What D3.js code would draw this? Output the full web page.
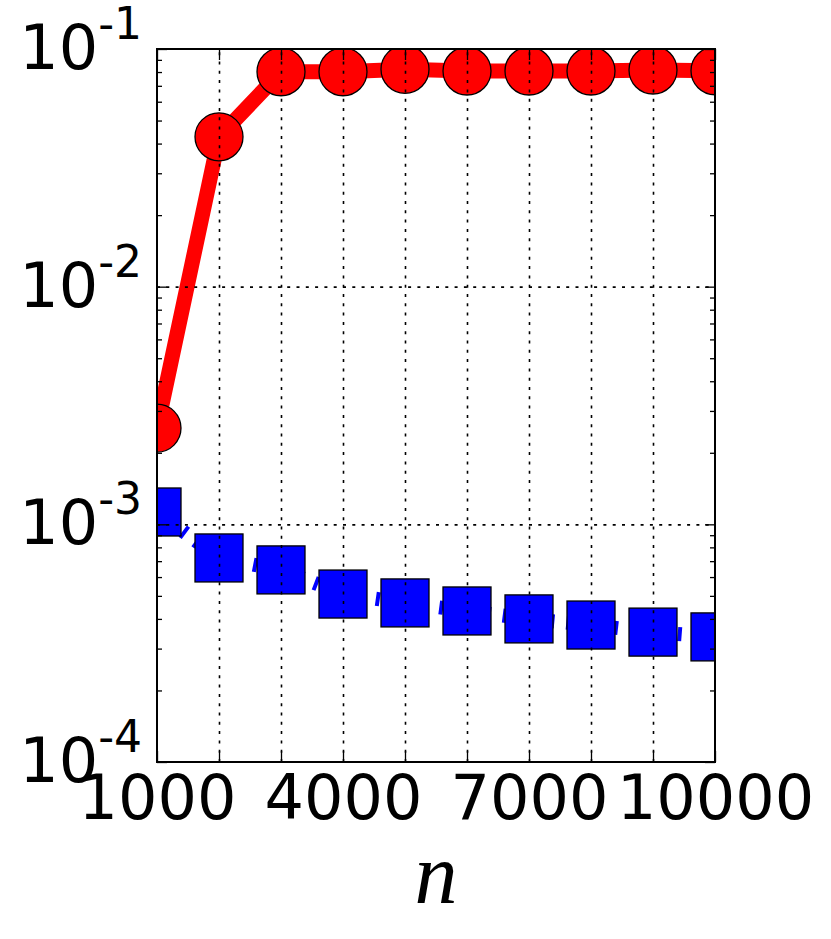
<!DOCTYPE html>
<html>
<head>
<meta charset="utf-8">
<script src="https://cdn.jsdelivr.net/npm/d3@7"></script>
<style>
  html, body { margin: 0; padding: 0; background: #fff; }
  svg { display: block; }
</style>
</head>
<body>
<script>
// ---- data ----
const nValues = [1000, 2000, 3000, 4000, 5000, 6000, 7000, 8000, 9000, 10000];
const redSeries = [0.00254, 0.0427, 0.0802, 0.0802, 0.0821, 0.0808, 0.0808, 0.0808, 0.0816, 0.0810];
const blueSeries = [0.001127, 0.000722, 0.000643, 0.000509, 0.000467, 0.000432, 0.000400, 0.000377, 0.000352, 0.000336];
const xTickLabels = [1000, 4000, 7000, 10000];
const xGridValues = [1000, 2000, 3000, 4000, 5000, 6000, 7000, 8000, 9000, 10000];
const yMajorTicks = [1e-4, 1e-3, 1e-2, 1e-1];
const yTickExponents = ["-4", "-3", "-2", "-1"];

// ---- layout ----
const W = 831, H = 939;
const L = 157, R = 715, T = 49, B = 762;

const svg = d3.select("body").append("svg").attr("width", W).attr("height", H);

const x = d3.scaleLinear().domain([1000, 10000]).range([L, R]);
const y = d3.scaleLog().domain([1e-4, 1e-1]).range([B, T]);

const yMinor = [];
[-4, -3, -2].forEach(e => { for (let k = 2; k <= 9; k++) yMinor.push(k * Math.pow(10, e)); });

svg.append("defs").append("clipPath").attr("id", "clip")
  .append("rect").attr("x", L).attr("y", T).attr("width", R - L).attr("height", B - T);

const plot = svg.append("g").attr("clip-path", "url(#clip)");

// red series
const red = nValues.map((n, i) => [n, redSeries[i]]);
const blue = nValues.map((n, i) => [n, blueSeries[i]]);
const line = d3.line().x(d => x(d[0])).y(d => y(d[1]));

plot.append("path").datum(red).attr("d", line)
  .attr("fill", "none").attr("stroke", "#ff0000").attr("stroke-width", 15)
  .attr("stroke-linejoin", "round");
plot.selectAll("circle.red").data(red).enter().append("circle")
  .attr("cx", d => x(d[0])).attr("cy", d => y(d[1])).attr("r", 24)
  .attr("fill", "#ff0000").attr("stroke", "#000").attr("stroke-width", 1.3);

// blue series
plot.append("path").datum(blue).attr("d", line)
  .attr("fill", "none").attr("stroke", "#0000ff").attr("stroke-width", 14)
  .attr("stroke-dasharray", "4,12");
const S = 48;
plot.selectAll("rect.blue").data(blue).enter().append("rect")
  .attr("x", d => x(d[0]) - S / 2).attr("y", d => y(d[1]) - S / 2)
  .attr("width", S).attr("height", S)
  .attr("fill", "#0000ff").attr("stroke", "#000").attr("stroke-width", 1.3);

// grid (drawn on top, like classic matplotlib)
const gridX = svg.append("g").attr("transform", `translate(0,${B})`)
  .call(d3.axisBottom(x).tickValues(xGridValues.slice(1, -1)).tickSize(-(B - T)).tickFormat(""));
const gridY = svg.append("g").attr("transform", `translate(${L},0)`)
  .call(d3.axisLeft(y).tickValues([1e-3, 1e-2]).tickSize(-(R - L)).tickFormat(""));
[gridX, gridY].forEach(g => {
  g.select(".domain").remove();
  g.selectAll("line").attr("stroke", "#000").attr("stroke-width", 1.6).attr("stroke-dasharray", "3,6.3");
});

// ticks (inward) on all four sides
function styleTicks(g) {
  g.select(".domain").remove();
  g.selectAll("line").attr("stroke", "#000").attr("stroke-width", 1.3);
}
styleTicks(svg.append("g").attr("transform", `translate(0,${B})`)
  .call(d3.axisBottom(x).tickValues(xGridValues).tickSize(-11).tickFormat("")));
styleTicks(svg.append("g").attr("transform", `translate(0,${T})`)
  .call(d3.axisTop(x).tickValues(xGridValues).tickSize(-11).tickFormat("")));
styleTicks(svg.append("g").attr("transform", `translate(${L},0)`)
  .call(d3.axisLeft(y).tickValues(yMajorTicks).tickSize(-10).tickFormat("")));
styleTicks(svg.append("g").attr("transform", `translate(${R},0)`)
  .call(d3.axisRight(y).tickValues(yMajorTicks).tickSize(-10).tickFormat("")));
styleTicks(svg.append("g").attr("transform", `translate(${L},0)`)
  .call(d3.axisLeft(y).tickValues(yMinor).tickSize(-5).tickFormat("")));
styleTicks(svg.append("g").attr("transform", `translate(${R},0)`)
  .call(d3.axisRight(y).tickValues(yMinor).tickSize(-5).tickFormat("")));

// border
svg.append("rect").attr("x", L).attr("y", T).attr("width", R - L).attr("height", B - T)
  .attr("fill", "none").attr("stroke", "#000").attr("stroke-width", 2);

// x tick labels
const xl = svg.append("g").attr("transform", `translate(0,${B})`)
  .call(d3.axisBottom(x).tickValues(xTickLabels).tickSize(0).tickFormat(d => String(d)));
xl.select(".domain").remove();
xl.selectAll("text").attr("y", 57).attr("dy", 0)
  .attr("font-family", "DejaVu Sans").attr("font-size", 62).attr("fill", "#000");

// y tick labels with superscript exponents
const yl = svg.append("g").attr("transform", `translate(${L},0)`)
  .call(d3.axisLeft(y).tickValues(yMajorTicks).tickSize(0).tickFormat(""));
yl.select(".domain").remove();
yl.selectAll(".tick text").each(function(d, i) {
  const t = d3.select(this);
  t.text(null).attr("x", -15).attr("dy", 0).attr("y", 19.5)
    .attr("font-family", "DejaVu Sans").attr("font-size", 62).attr("fill", "#000")
    .attr("text-anchor", "end");
  t.append("tspan").text("10");
  t.append("tspan").attr("dy", -30).attr("font-size", 44).text(yTickExponents[i]);
});

// x axis label
svg.append("text").attr("x", (L + R) / 2).attr("y", 903)
  .attr("text-anchor", "middle").attr("font-family", "Liberation Serif")
  .attr("font-style", "italic").attr("font-size", 86).text("n");
</script>
</body>
</html>
